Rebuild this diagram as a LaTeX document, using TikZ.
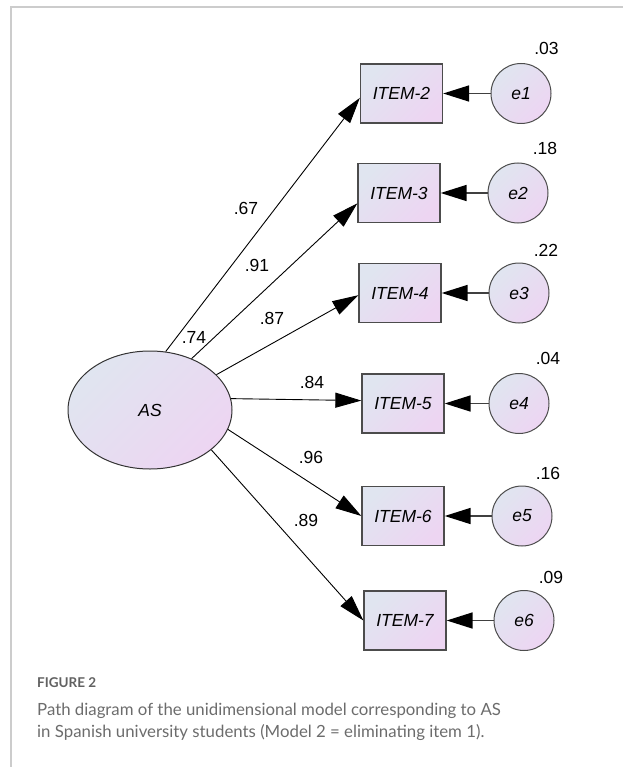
\documentclass[tikz,border=0pt]{standalone}
\usepackage{fontspec}
\setmainfont{Liberation Sans}
\newfontfamily\capfont{Lato}
\usetikzlibrary{arrows.meta,shapes.geometric}

\definecolor{fillA}{RGB}{224,229,240}
\definecolor{fillB}{RGB}{237,213,242}
\definecolor{framegray}{RGB}{204,204,204}
\definecolor{capgray}{RGB}{108,108,108}
\newcommand\diagfont{\fontsize{17.5}{20}\selectfont}

\begin{document}
\begin{tikzpicture}[
  x=1pt, y=-1pt,
  latent/.style={ellipse, draw=black!80, line width=1pt, minimum width=164pt, minimum height=118pt, inner sep=0pt,
    top color=fillA, bottom color=fillB, shading angle=45, font=\diagfont\itshape},
  item/.style={rectangle, draw=black!70, line width=1.3pt, minimum width=82pt, minimum height=59pt, inner sep=0pt,
    top color=fillA, bottom color=fillB, shading angle=45, font=\diagfont\itshape},
  err/.style={circle, draw=black!70, line width=1pt, minimum size=60pt, inner sep=0pt,
    top color=fillA, bottom color=fillB, shading angle=45, font=\diagfont\itshape},
  coef/.style={inner sep=0pt, font=\diagfont},
  loadarrow/.style={line width=0.9pt, -{Triangle[length=26pt,width=15pt]}},
  errarrow/.style={line width=1.6pt, draw=black!75, -{Triangle[length=26pt,width=16pt,color=black]}},
  capline/.style={anchor=base west, inner sep=0pt, text=capgray, font=\capfont\fontsize{16.8}{22}\selectfont}
]
  \useasboundingbox (0,0) rectangle (623,767);
  % Rahmen
  \draw[framegray, line width=1.2pt] (11,767) -- (11,7) -- (623,7);

  % latente Variable und Items
  \node[latent] (AS) at (150,410) {AS};
  \node[item] (i2) at (401.5,93.5) {ITEM-2};
  \node[item] (i3) at (399,193) {ITEM-3};
  \node[item] (i4) at (400,293) {ITEM-4};
  \node[item] (i5) at (403,403.5) {ITEM-5};
  \node[item] (i6) at (403,516) {ITEM-6};
  \node[item] (i7) at (405,620.5) {ITEM-7};

  % Fehlerterme
  \node[err] (e1) at (521,93.5) {e1};
  \node[err] (e2) at (518,193) {e2};
  \node[err] (e3) at (519,293) {e3};
  \node[err] (e4) at (519,403.5) {e4};
  \node[err] (e5) at (522,516) {e5};
  \node[err] (e6) at (524,620.5) {e6};

  % Varianzen
  \node[coef] (v1) at (546.5,48) {.03};
  \node[coef] (v2) at (545,148) {.18};
  \node[coef] (v3) at (546,250) {.22};
  \node[coef] (v4) at (548,358) {.04};
  \node[coef] (v5) at (548,473) {.16};
  \node[coef] (v6) at (551,577) {.09};

  % Ladungen
  \node[coef] (l2) at (246,208) {.67};
  \node[coef] (l3) at (257,265) {.91};
  \node[coef] (l0) at (194,337) {.74};
  \node[coef] (l4) at (272,318) {.87};
  \node[coef] (l5) at (312,382) {.84};
  \node[coef] (l6) at (311,457) {.96};
  \node[coef] (l7) at (306,520) {.89};

  \draw[loadarrow] (AS.75.7) -- (i2.186);
  \draw[loadarrow] (AS.51.6) -- (i3.194);
  \draw[loadarrow] (AS.28.5) -- (i4.183);
  \draw[loadarrow] (AS.8.3) -- (i5.176);
  \draw[loadarrow] (AS.-14.2) -- (i6.west);
  \draw[loadarrow] (AS.-33.9) -- (i7.west);

  \draw[errarrow] (e1) -- (i2);
  \draw[errarrow] (e2) -- (i3);
  \draw[errarrow] (e3) -- (i4);
  \draw[errarrow] (e4) -- (i5);
  \draw[errarrow] (e5) -- (i6);
  \draw[errarrow] (e6) -- (i7);

  % Legende
  \node[capline, font=\capfont\bfseries\fontsize{13.5}{15}\selectfont, text=black!62] (fig) at (37,687) {FIGURE 2};
  \node[capline] (cap1) at (37,715) {Path diagram of the unidimensional model corresponding to AS};
  \node[capline] (cap2) at (37,737) {in Spanish university students (Model 2 = eliminating item 1).};
\end{tikzpicture}
\end{document}
